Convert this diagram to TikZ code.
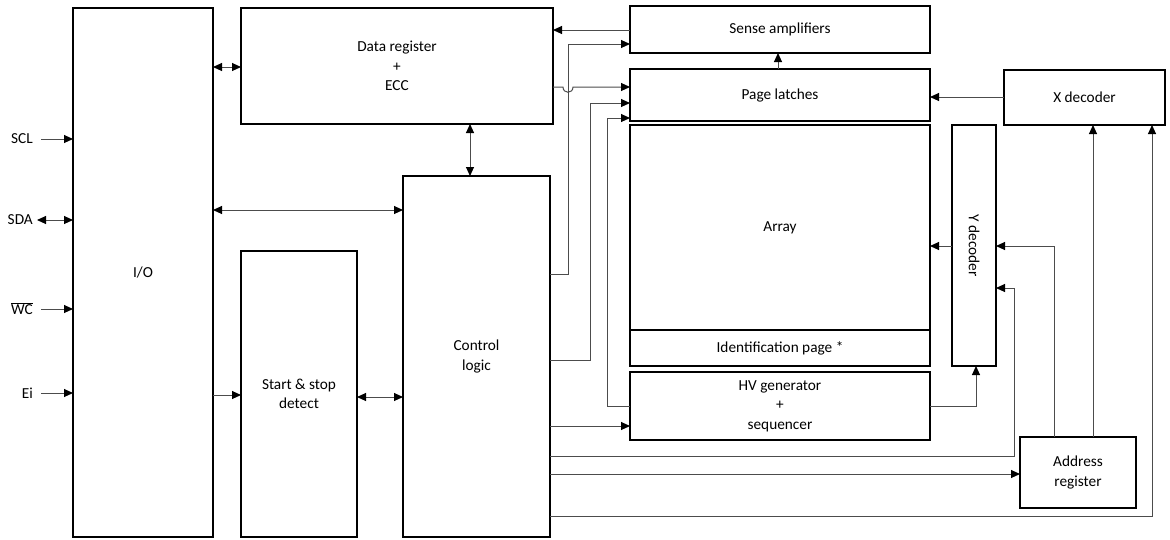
\documentclass[tikz,border=0pt]{standalone}
\usepackage{fontspec}
\setmainfont{Carlito}
\usetikzlibrary{arrows.meta,calc}
\begin{document}
\begin{tikzpicture}[x=1pt,y=-1pt,
  blk/.style={draw=black,line width=1.5pt,inner sep=0pt,outer sep=0pt,align=center,font=\fontsize{15.3}{19.5}\selectfont},
  lbl/.style={inner sep=3pt,font=\fontsize{15.3}{19.5}\selectfont},
  tip/.tip={Triangle[length=9pt,width=8pt,color=black]},
  con/.style={draw=black!70,line width=1pt,-tip},
  bicon/.style={draw=black!70,line width=1pt,tip-tip}]
\useasboundingbox (0,0) rectangle (1170,539);
% blocks
\node[blk,minimum width=140,minimum height=529] (io) at (143,272.5) {I/O};
\node[blk,minimum width=312,minimum height=116] (dr) at (397,66) {Data register\\+\\ECC};
\node[blk,minimum width=147,minimum height=361] (cl) at (476.5,356.5) {Control\\logic};
\node[blk,minimum width=116,minimum height=286] (ss) at (299,394) {Start \& stop\\detect};
\node[blk,minimum width=300,minimum height=47] (sa) at (780,29.5) {Sense amplifiers};
\node[blk,minimum width=300,minimum height=52] (pl) at (780,95) {Page latches};
\node[blk,minimum width=300,minimum height=205] (ar) at (780,227.5) {Array};
\node[blk,minimum width=300,minimum height=36] (idp) at (780,348) {Identification page *};
\node[blk,minimum width=300,minimum height=68] (hv) at (780,406) {HV generator\\+\\sequencer};
\node[blk,minimum width=44,minimum height=241] (yd) at (974,245.5) {};
\node[lbl,rotate=-90] (ydt) at (yd.center) {Y decoder};
\node[blk,minimum width=161,minimum height=55] (xd) at (1084.5,97.5) {X decoder};
\node[blk,minimum width=116,minimum height=71] (adr) at (1078,472.5) {Address\\register};
% pins
\node[lbl,anchor=east] (scl) at (36,139) {SCL};
\node[lbl,anchor=east] (sda) at (36,220) {SDA};
\node[lbl,anchor=east] (wc) at (36,309) {$\overline{\hbox{WC}}$};
\node[lbl,anchor=east] (ei) at (36,393) {Ei};
\draw[con] ([xshift=5pt]scl.east) -- (scl.east -| io.west);
\draw[bicon] ([xshift=1pt]sda.east) -- (sda.east -| io.west);
\draw[con] ([xshift=5pt]wc.east |- 0,309) -- (io.west |- 0,309);
\draw[con] ([xshift=5pt]ei.east) -- (ei.east -| io.west);
% connectors
\draw[bicon] (io.east |- 0,67) -- (dr.west |- 0,67);
\draw[bicon] (io.east |- 0,210) -- (cl.west |- 0,210);
\draw[con] (io.east |- 0,395) -- (ss.west |- 0,395);
\draw[bicon] (ss.east |- 0,397) -- (cl.west |- 0,397);
\draw[bicon] (dr.south -| 470,0) -- (cl.north -| 470,0);
\draw[con] (sa.west |- 0,30) -- (dr.east |- 0,30);
\draw[con] (dr.east |- 0,87) -- (563,87) .. controls (563,94) and (573,94) .. (573,87) -- (pl.west |- 0,87);
\draw[con] (cl.east |- 0,274) -- (568,274) -- (568,44) -- (sa.west |- 0,44);
\draw[con] (cl.east |- 0,360) -- (590,360) -- (590,103) -- (pl.west |- 0,103);
\draw[con] (hv.west |- 0,406) -- (607,406) -- (607,118) -- (pl.west |- 0,118);
\draw[con] (cl.east |- 0,426) -- (hv.west |- 0,426);
\draw[con] (pl.north -| 778,0) -- (sa.south -| 778,0);
\draw[con] (xd.west |- 0,97) -- (pl.east |- 0,97);
\draw[con] (yd.west |- 0,246) -- (ar.east |- 0,246);
\draw[con] (hv.east |- 0,406) -- (976,406) -- (yd.south -| 976,0);
\draw[con] (adr.north -| 1054,0) -- (1054,246) -- (yd.east |- 0,246);
\draw[con] (adr.north -| 1093,0) -- (xd.south -| 1093,0);
\draw[con] (cl.east |- 0,456) -- (1014,456) -- (1014,288) -- (yd.east |- 0,288);
\draw[con] (cl.east |- 0,474) -- (adr.west |- 0,474);
\draw[con] (cl.east |- 0,516) -- (1152,516) -- (xd.south -| 1152,0);
\end{tikzpicture}
\end{document}
